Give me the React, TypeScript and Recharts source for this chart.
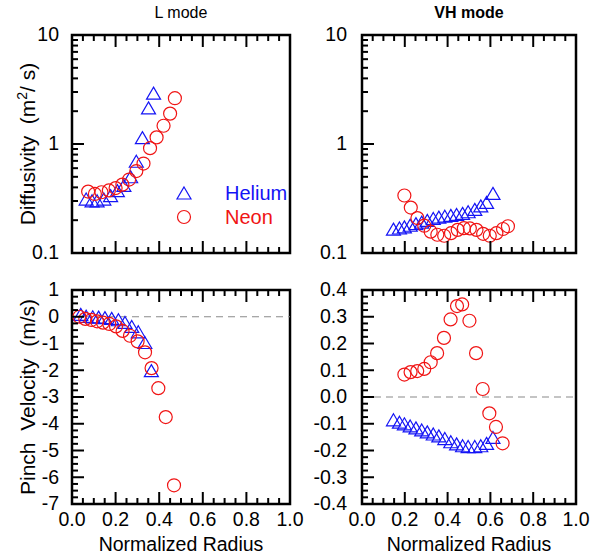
import React from "react";
import { ScatterChart, Scatter, XAxis, YAxis, ReferenceArea, ReferenceLine } from "recharts";

const FONT = '"Liberation Sans", Arial, Helvetica, sans-serif';
const BLUE = "#1414f5";
const RED = "#f01414";
const W = 596;
const H = 554;
const YW = 60;
const XH = 30;

// L mode, diffusivity
const heliumLR = [0.065, 0.092, 0.115, 0.146, 0.177, 0.208, 0.238, 0.269, 0.295, 0.323, 0.351, 0.374];
const heliumLD = [0.306, 0.295, 0.295, 0.306, 0.329, 0.366, 0.408, 0.49, 0.68, 1.12, 2.1, 2.87];
const neonLR = [0.074, 0.105, 0.135, 0.169, 0.2, 0.231, 0.262, 0.295, 0.328, 0.358, 0.388, 0.42, 0.45, 0.472];
const neonLD = [0.366, 0.348, 0.361, 0.375, 0.394, 0.424, 0.472, 0.565, 0.662, 0.916, 1.15, 1.47, 1.9, 2.63];

// VH mode, diffusivity
const heliumVR = [0.147, 0.175, 0.198, 0.225, 0.252, 0.279, 0.305, 0.333, 0.359, 0.387, 0.415, 0.442, 0.47, 0.496, 0.527, 0.555, 0.582, 0.612];
const heliumVD = [0.162, 0.166, 0.17, 0.176, 0.182, 0.188, 0.195, 0.203, 0.209, 0.213, 0.217, 0.221, 0.226, 0.234, 0.246, 0.265, 0.285, 0.345];
const neonVR = [0.198, 0.228, 0.259, 0.291, 0.321, 0.352, 0.384, 0.416, 0.447, 0.476, 0.504, 0.535, 0.566, 0.597, 0.628, 0.659, 0.682];
const neonVD = [0.337, 0.261, 0.209, 0.178, 0.157, 0.147, 0.144, 0.152, 0.163, 0.169, 0.168, 0.163, 0.15, 0.144, 0.152, 0.166, 0.176];

// L mode, pinch velocity
const heliumPLR = [0.04, 0.065, 0.095, 0.122, 0.151, 0.182, 0.213, 0.243, 0.274, 0.304, 0.334, 0.364];
const heliumPLV = [0.05, -0.02, -0.04, -0.05, -0.07, -0.1, -0.15, -0.25, -0.4, -0.6, -1.0, -2.05];
const neonPLR = [0.034, 0.061, 0.089, 0.115, 0.142, 0.171, 0.202, 0.232, 0.266, 0.301, 0.335, 0.365, 0.396, 0.43, 0.468];
const neonPLV = [0.0, -0.08, -0.12, -0.17, -0.22, -0.27, -0.36, -0.53, -0.71, -0.92, -1.33, -1.92, -2.67, -3.75, -6.3];

// VH mode, pinch velocity
const heliumPVR = heliumVR;
const heliumPVV = [-0.089, -0.098, -0.104, -0.112, -0.119, -0.127, -0.134, -0.142, -0.149, -0.159, -0.171, -0.179, -0.186, -0.189, -0.189, -0.186, -0.177, -0.155];
const neonPVR = [0.198, 0.227, 0.258, 0.291, 0.321, 0.351, 0.383, 0.414, 0.444, 0.468, 0.502, 0.533, 0.564, 0.595, 0.626, 0.657];
const neonPVV = [0.084, 0.093, 0.097, 0.105, 0.13, 0.164, 0.221, 0.29, 0.34, 0.346, 0.285, 0.164, 0.03, -0.061, -0.112, -0.173];

// axes
const xMajor = [0, 0.2, 0.4, 0.6, 0.8, 1];
const xLabels = ["0.0", "0.2", "0.4", "0.6", "0.8", "1.0"];
const logTicks = [0.1, 0.2, 0.3, 0.4, 0.5, 0.6, 0.7, 0.8, 0.9, 1, 2, 3, 4, 5, 6, 7, 8, 9, 10];
const logMajor = [0.1, 1, 10];
const logLabels = ["0.1", "1", "10"];
const pinchLMajor = [1, 0, -1, -2, -3, -4, -5, -6, -7];
const pinchLLabels = ["1", "0", "-1", "-2", "-3", "-4", "-5", "-6", "-7"];
const pinchVMajor = [0.4, 0.3, 0.2, 0.1, 0, -0.1, -0.2, -0.3, -0.4];
const pinchVLabels = ["0.4", "0.3", "0.2", "0.1", "0.0", "-0.1", "-0.2", "-0.3", "-0.4"];

function withMinors(majors: number[], n: number) {
  const s = [...majors].sort((a, b) => a - b);
  const out: number[] = [];
  for (let i = 0; i < s.length - 1; i++) {
    for (let k = 0; k < n; k++) out.push(s[i] + ((s[i + 1] - s[i]) * k) / n);
  }
  out.push(s[s.length - 1]);
  return out;
}

const pts = (rs: number[], vs: number[]) => rs.map((r, i) => ({ r, v: vs[i] }));
const near = (list: number[], v: number) => list.findIndex((m) => Math.abs(m - v) < 1e-6);

const Tri = (p: any) => (
  <path
    d={`M${p.cx},${p.cy - 7}L${p.cx + 7},${p.cy + 5}L${p.cx - 7},${p.cy + 5}Z`}
    fill="none"
    stroke={BLUE}
    strokeWidth={1.2}
  />
);
const Circ = (p: any) => <circle cx={p.cx} cy={p.cy} r={6.5} fill="none" stroke={RED} strokeWidth={1.2} />;

type Box = { x0: number; x1: number; y0: number; y1: number };

function makeXTick(plotH: number, labels: boolean) {
  return (props: any) => {
    const { x, y, payload } = props;
    const i = near(xMajor, payload.value);
    const len = i >= 0 ? 12 : 6;
    return (
      <g>
        <line x1={x} y1={y} x2={x} y2={y - len} stroke="#000" strokeWidth={2} />
        <line x1={x} y1={y - plotH} x2={x} y2={y - plotH + len} stroke="#000" strokeWidth={2} />
        {labels && i >= 0 && (
          <text x={x} y={y + 22} textAnchor="middle" fontSize={19.5} fontFamily={FONT} fill="#000">
            {xLabels[i]}
          </text>
        )}
      </g>
    );
  };
}

function makeYTick(majors: number[], labels: string[], gap: number) {
  return (props: any) => {
    const { x, y, payload } = props;
    const i = near(majors, payload.value);
    const len = i >= 0 ? 12 : 6;
    return (
      <g>
        <line x1={x} y1={y} x2={x + len} y2={y} stroke="#000" strokeWidth={2} />
        {i >= 0 && (
          <text x={x - gap} y={y} dy="0.33em" textAnchor="end" fontSize={19.5} fontFamily={FONT} fill="#000">
            {labels[i]}
          </text>
        )}
      </g>
    );
  };
}

function Panel(props: {
  box: Box;
  log?: boolean;
  yDomain: [number, number];
  yTicks: number[];
  yMajor: number[];
  yLabels: string[];
  gap: number;
  xLabelsOn: boolean;
  zero?: boolean;
  helium: { r: number; v: number }[];
  neon: { r: number; v: number }[];
}) {
  const { box } = props;
  const margin = { left: box.x0 - YW, top: box.y0, right: W - box.x1, bottom: H - box.y1 - XH };
  return (
    <div style={{ position: "absolute", left: 0, top: 0 }}>
      <ScatterChart width={W} height={H} margin={margin}>
        <XAxis
          dataKey="r"
          type="number"
          domain={[0, 1]}
          allowDataOverflow
          ticks={withMinors(xMajor, 4)}
          interval={0}
          tickSize={0}
          tickMargin={0}
          height={XH}
          axisLine={false}
          tickLine={false}
          tick={makeXTick(box.y1 - box.y0, props.xLabelsOn)}
        />
        <YAxis
          dataKey="v"
          type="number"
          scale={props.log ? "log" : "linear"}
          domain={props.yDomain}
          allowDataOverflow
          ticks={props.yTicks}
          interval={0}
          tickSize={0}
          tickMargin={0}
          width={YW}
          axisLine={false}
          tickLine={false}
          tick={makeYTick(props.yMajor, props.yLabels, props.gap)}
        />
        {props.zero && <ReferenceLine y={0} stroke="#8a8a8a" strokeWidth={1.2} strokeDasharray="7 5" />}
        <Scatter data={props.helium} shape={Tri} isAnimationActive={false} />
        <Scatter data={props.neon} shape={Circ} isAnimationActive={false} />
        <ReferenceArea
          x1={0}
          x2={1}
          y1={props.yDomain[0]}
          y2={props.yDomain[1]}
          fill="none"
          stroke="#000"
          strokeWidth={2.5}
          ifOverflow="visible"
        />
      </ScatterChart>
    </div>
  );
}

export default function App() {
  const txt = { fontFamily: FONT, fill: "#000" };
  return (
    <div style={{ position: "absolute", left: 0, top: 0, width: W, height: H, background: "#fff" }}>
      <Panel
        box={{ x0: 72, x1: 290, y0: 35, y1: 253 }}
        log
        yDomain={[0.1, 10]}
        yTicks={logTicks}
        yMajor={logMajor}
        yLabels={logLabels}
        gap={13}
        xLabelsOn={false}
        helium={pts(heliumLR, heliumLD)}
        neon={pts(neonLR, neonLD)}
      />
      <Panel
        box={{ x0: 362, x1: 576, y0: 35, y1: 253 }}
        log
        yDomain={[0.1, 10]}
        yTicks={logTicks}
        yMajor={logMajor}
        yLabels={logLabels}
        gap={15}
        xLabelsOn={false}
        helium={pts(heliumVR, heliumVD)}
        neon={pts(neonVR, neonVD)}
      />
      <Panel
        box={{ x0: 72, x1: 290, y0: 290, y1: 504 }}
        yDomain={[-7, 1]}
        yTicks={withMinors(pinchLMajor, 4)}
        yMajor={pinchLMajor}
        yLabels={pinchLLabels}
        gap={13}
        xLabelsOn
        zero
        helium={pts(heliumPLR, heliumPLV)}
        neon={pts(neonPLR, neonPLV)}
      />
      <Panel
        box={{ x0: 362, x1: 576, y0: 290, y1: 504 }}
        yDomain={[-0.4, 0.4]}
        yTicks={withMinors(pinchVMajor, 4)}
        yMajor={pinchVMajor}
        yLabels={pinchVLabels}
        gap={15}
        xLabelsOn
        zero
        helium={pts(heliumPVR, heliumPVV)}
        neon={pts(neonPVR, neonPVV)}
      />
      <svg width={W} height={H} style={{ position: "absolute", left: 0, top: 0, pointerEvents: "none" }}>
        <text x={181} y={18} textAnchor="middle" fontSize={16} {...txt}>L mode</text>
        <text x={469} y={18} textAnchor="middle" fontSize={16} fontWeight="bold" {...txt}>VH mode</text>
        <text x={181} y={551} textAnchor="middle" fontSize={19.5} {...txt}>Normalized Radius</text>
        <text x={469} y={551} textAnchor="middle" fontSize={19.5} {...txt}>Normalized Radius</text>
        <text transform="translate(35,144) rotate(-90)" textAnchor="middle" fontSize={21} {...txt} xmlSpace="preserve">
          Diffusivity{"  "}(m<tspan dy={-8} fontSize={14}>2</tspan><tspan dy={8}>/ s)</tspan>
        </text>
        <text transform="translate(35,397) rotate(-90)" textAnchor="middle" fontSize={21} {...txt} xmlSpace="preserve">
          Pinch{"  "}Velocity{"  "}(m/s)
        </text>
        <Tri cx={184} cy={194} />
        <Circ cx={184} cy={217} />
        <text x={225} y={200} fontSize={20} fontFamily={FONT} fill={BLUE}>Helium</text>
        <text x={225} y={224} fontSize={20} fontFamily={FONT} fill={RED}>Neon</text>
      </svg>
    </div>
  );
}
